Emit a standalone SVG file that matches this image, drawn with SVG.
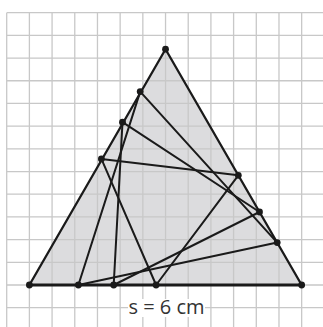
<svg xmlns="http://www.w3.org/2000/svg" width="323" height="327" viewBox="0 0 323 327">
  <style>
    .grid { stroke: #c8c8c8; stroke-width: 1.3; fill: none; }
    .outer { fill: #dcdcde; stroke: none; }
    .side { stroke: #1a1a1a; stroke-width: 2.3; fill: none; stroke-linejoin: round; }
    .base { stroke: #1a1a1a; stroke-width: 3; fill: none; }
    .inner { stroke: #1a1a1a; stroke-width: 2; fill: none; stroke-linejoin: round; }
    .dot { fill: #1a1a1a; }
    .label { font-family: "Open Sans", "Liberation Sans", sans-serif; font-size: 20px; fill: #333333; }
  </style>
  <rect width="323" height="327" fill="#ffffff"/>
  <polygon class="outer" points="29.39,285 301.67,285 165.53,49.2"/>
  <g id="grid">
    <path class="grid" d="M6.7,12.7V327 M29.39,12.7V327 M52.08,12.7V327 M74.77,12.7V327 M97.46,12.7V327 M120.15,12.7V327 M142.84,12.7V327 M165.53,12.7V327 M188.22,12.7V327 M210.91,12.7V327 M233.6,12.7V327 M256.29,12.7V327 M278.98,12.7V327 M301.67,12.7V327
      M6.7,12.7H323 M6.7,35.39H323 M6.7,58.08H323 M6.7,80.77H323 M6.7,103.46H323 M6.7,126.15H323 M6.7,148.84H323 M6.7,171.53H323 M6.7,194.22H323 M6.7,216.91H323 M6.7,239.6H323 M6.7,262.29H323 M6.7,284.98H323 M6.7,307.67H323"/>
  </g>
  <g id="connectors">
    <polygon class="inner" points="78.4,285 140.2,91.6 277.2,242.6"/>
    <polygon class="inner" points="113.7,285 122.5,122.2 259.5,212"/>
    <polygon class="inner" points="156.1,285 101.4,158.9 238.3,175.3"/>
    <path class="side" d="M29.39,285 L165.53,49.2 L301.67,285"/>
    <path class="base" d="M29.39,285 H301.67"/>
  </g>
  <g id="vertex-A"><circle class="dot" cx="29.39" cy="285" r="3.4"/></g>
  <g id="vertex-B"><circle class="dot" cx="301.67" cy="285" r="3.4"/></g>
  <g id="vertex-C"><circle class="dot" cx="165.53" cy="49.2" r="3.4"/></g>
  <g id="t1-base"><circle class="dot" cx="78.4" cy="285" r="3.4"/></g>
  <g id="t1-left"><circle class="dot" cx="140.2" cy="91.6" r="3.4"/></g>
  <g id="t1-right"><circle class="dot" cx="277.2" cy="242.6" r="3.4"/></g>
  <g id="t2-base"><circle class="dot" cx="113.7" cy="285" r="3.4"/></g>
  <g id="t2-left"><circle class="dot" cx="122.5" cy="122.2" r="3.4"/></g>
  <g id="t2-right"><circle class="dot" cx="259.5" cy="212" r="3.4"/></g>
  <g id="t3-base"><circle class="dot" cx="156.1" cy="285" r="3.4"/></g>
  <g id="t3-left"><circle class="dot" cx="101.4" cy="158.9" r="3.4"/></g>
  <g id="t3-right"><circle class="dot" cx="238.3" cy="175.3" r="3.4"/></g>
  <g id="label">
    <rect x="128" y="299" width="77" height="18" fill="#ffffff"/>
    <text class="label" x="166.5" y="313.5" text-anchor="middle">s = 6 cm</text>
  </g>
</svg>
